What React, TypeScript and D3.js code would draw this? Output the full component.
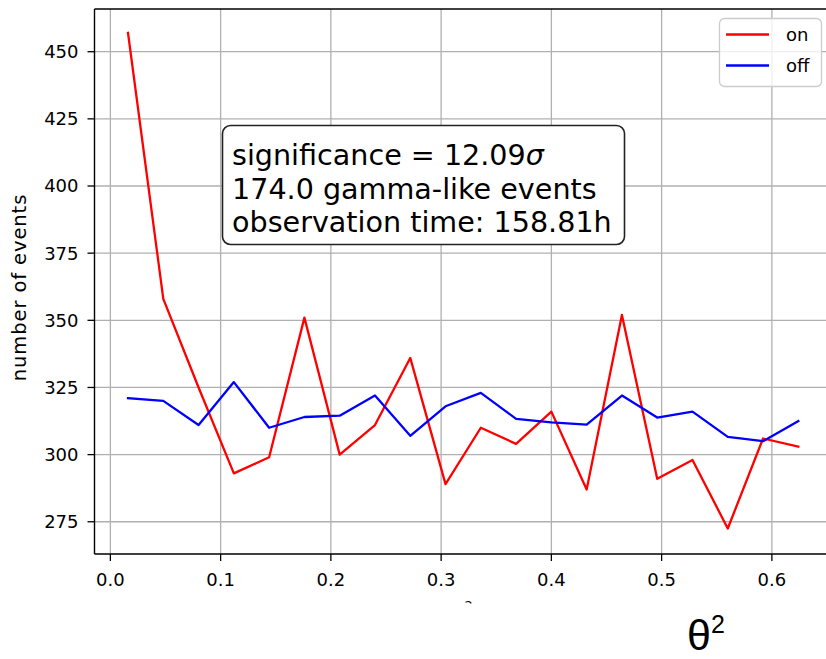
import React from "react";
import * as d3 from "d3";

// θ² bin centres and event counts per bin
const theta2Bins = [
  0.016, 0.048, 0.08, 0.112, 0.144, 0.176, 0.208, 0.24, 0.272, 0.304,
  0.336, 0.368, 0.4, 0.432, 0.464, 0.496, 0.528, 0.56, 0.592, 0.624,
];
const onCounts = [
  457, 358, 325, 293, 299, 351, 300, 311, 336, 289,
  310, 304, 316, 287, 352, 291, 298, 272.5, 306, 303,
];
const offCounts = [
  321, 320, 311, 327, 310, 314, 314.5, 322, 307, 318,
  323, 313.3, 312, 311.2, 322, 313.8, 316, 306.6, 305, 312.5,
];
const xTicks = [0.0, 0.1, 0.2, 0.3, 0.4, 0.5, 0.6];
const yTicks = [275, 300, 325, 350, 375, 400, 425, 450];
const infoLines = ["174.0 gamma-like events", "observation time: 158.81h"];
const significance = "12.09";
const seriesNames = ["on", "off"];
const seriesColors = ["#ff0000", "#0000ff"];

const W = 826;
const H = 659;
const FONT = "DejaVu Sans, sans-serif";

export default function App() {
  const left = 94.5;
  const top = 9;
  const bottom = 554;
  const x = d3.scaleLinear().domain([-0.0144, 0.6544]).range([left, left + 0.6688 * 1102.5]);
  const y = d3.scaleLinear().domain([263, 465.9]).range([bottom, top]);
  const right = x.range()[1];

  const line = d3
    .line<number>()
    .x((_, i) => x(theta2Bins[i]))
    .y((d) => y(d));

  const series = [onCounts, offCounts];

  return (
    <svg
      width={W}
      height={H}
      style={{ position: "absolute", left: 0, top: 0, background: "#fff" }}
      fontFamily={FONT}
    >
      <defs>
        <clipPath id="plotClip">
          <rect x={left} y={top} width={right - left} height={bottom - top} />
        </clipPath>
        <clipPath id="xlabClip">
          <rect x={0} y={0} width={W} height={603.5} />
        </clipPath>
      </defs>
      <rect x={0} y={0} width={W} height={H} fill="#fff" />

      {/* grid */}
      <g stroke="#b0b0b0" strokeWidth={1.3}>
        {xTicks.map((t) => (
          <line key={"gx" + t} x1={x(t)} x2={x(t)} y1={top} y2={bottom} />
        ))}
        {yTicks.map((t) => (
          <line key={"gy" + t} x1={left} x2={right} y1={y(t)} y2={y(t)} />
        ))}
      </g>

      {/* data lines */}
      <g clipPath="url(#plotClip)" fill="none" strokeWidth={2.3} strokeLinejoin="round" strokeLinecap="square">
        {series.map((s, i) => (
          <path key={seriesNames[i]} d={line(s) || ""} stroke={seriesColors[i]} />
        ))}
      </g>

      {/* spines */}
      <g stroke="#000" strokeWidth={1.4} fill="none">
        <line x1={left} x2={left} y1={top} y2={bottom} />
        <line x1={left} x2={right} y1={bottom} y2={bottom} />
        <line x1={left} x2={right} y1={top} y2={top} />
        <line x1={right} x2={right} y1={top} y2={bottom} />
      </g>

      {/* x ticks */}
      <g fontSize={18} fill="#000" textAnchor="middle">
        {xTicks.map((t) => (
          <g key={"xt" + t}>
            <line x1={x(t)} x2={x(t)} y1={bottom} y2={bottom + 7} stroke="#000" strokeWidth={1.3} />
            <text x={x(t)} y={bottom + 31.5}>
              {d3.format(".1f")(t)}
            </text>
          </g>
        ))}
      </g>

      {/* y ticks */}
      <g fontSize={18} fill="#000" textAnchor="end">
        {yTicks.map((t) => (
          <g key={"yt" + t}>
            <line x1={left - 7} x2={left} y1={y(t)} y2={y(t)} stroke="#000" strokeWidth={1.3} />
            <text x={left - 16} y={y(t)} dy="0.36em">
              {t}
            </text>
          </g>
        ))}
      </g>

      {/* y axis label */}
      <text
        transform={`translate(25.5, ${(top + bottom) / 2 + 6}) rotate(-90)`}
        textAnchor="middle"
        fontSize={19.5}
        letterSpacing={0.9}
        fill="#000"
      >
        number of events
      </text>

      {/* original x label, mostly below the cropped area */}
      <g clipPath="url(#xlabClip)">
        <text x={(left + right) / 2} y={621} textAnchor="middle" fontSize={18} fill="#000" fontStyle="italic">
          θ<tspan dy={-11} fontSize={13} fontStyle="normal">2</tspan>
        </text>
      </g>

      {/* info box */}
      <rect x={222.5} y={125.5} width={402} height={119} rx={8} ry={8} fill="#fff" stroke="#222" strokeWidth={1.6} />
      <g fontSize={28.6} fill="#000">
        <text x={232} y={155} dy="0.36em">
          significance = {significance}
          <tspan fontStyle="italic">σ</tspan>
        </text>
        {infoLines.map((l, i) => (
          <text key={l} x={232} y={188.3 + i * 33.3} dy="0.36em">
            {l}
          </text>
        ))}
      </g>

      {/* legend */}
      <g>
        <rect x={719.5} y={18.5} width={102} height={68} rx={5} ry={5} fill="#fff" fillOpacity={0.8} stroke="#cccccc" strokeWidth={1.3} />
        {seriesNames.map((n, i) => (
          <g key={"lg" + n}>
            <line x1={726} x2={769} y1={34.5 + i * 31} y2={34.5 + i * 31} stroke={seriesColors[i]} strokeWidth={2.3} />
            <text x={786} y={34.5 + i * 31} dy="0.36em" fontSize={18} fill="#000">
              {n}
            </text>
          </g>
        ))}
      </g>

      {/* axis caption */}
      <text x={687} y={650} fontFamily="Liberation Sans, Arial, sans-serif" fontSize={43} fill="#000">
        θ<tspan dy={-17} fontSize={25}>2</tspan>
      </text>
    </svg>
  );
}
